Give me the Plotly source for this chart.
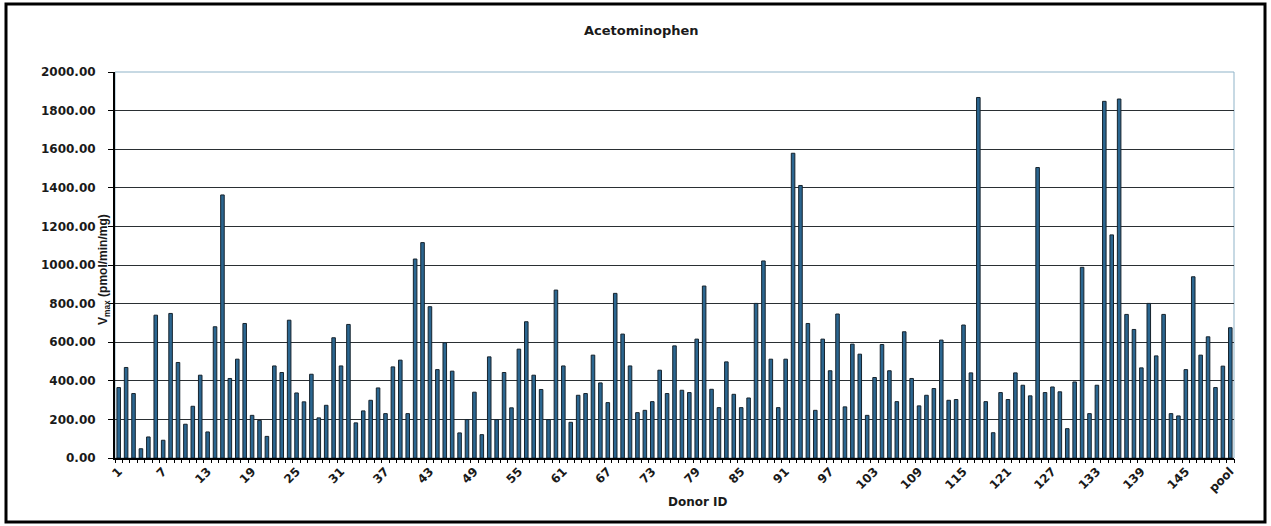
import plotly.graph_objects as go

# ---- data ----
donor_ids = [str(i) for i in range(1, 151)] + ["pool"]
vmax = [
    365, 469, 334, 48, 109, 740, 92, 749, 495, 175,
    268, 429, 135, 680, 1363, 412, 512, 697, 221, 195,
    112, 477, 443, 714, 337, 291, 434, 208, 273, 623,
    477, 692, 182, 244, 299, 363, 230, 472, 507, 230,
    1031, 1116, 784, 458, 597, 450, 130, 199, 341, 121,
    524, 199, 443, 260, 564, 706, 429, 355, 199, 870,
    477, 185, 325, 334, 533, 389, 287, 853, 642, 477,
    235, 247, 292, 455, 334, 581, 351, 339, 616, 891,
    356, 261, 498, 330, 261, 311, 801, 1021, 512, 261,
    512, 1579, 1412, 697, 247, 616, 452, 746, 265, 590,
    538, 221, 417, 588, 452, 292, 654, 412, 270, 325,
    360, 611, 299, 303, 689, 441, 1868, 292, 131, 339,
    303, 441, 377, 322, 1505, 339, 368, 343, 152, 394,
    988, 230, 377, 1848, 1156, 1860, 744, 666, 467, 801,
    529, 744, 230, 218, 458, 939, 533, 628, 365, 476,
    675,
]
y_ticks = [0, 200, 400, 600, 800, 1000, 1200, 1400, 1600, 1800, 2000]
y_tick_text = [f"{v:.2f}" for v in y_ticks]
x_tick_vals = donor_ids[::6]

W, H = 1271, 526
ML, MR, MT, MB = 115, 37, 72, 68
PW, PH = W - ML - MR, H - MT - MB

def px_x(p):
    return (p - ML) / PW

def px_y(p):
    return (H - MB - p) / PH

n = len(donor_ids)

fig = go.Figure()
fig.add_trace(
    go.Bar(
        x=donor_ids,
        y=vmax,
        marker=dict(color="#2b6690", line=dict(color="#16232d", width=1)),
        hoverinfo="x+y",
    )
)
# empty helper trace so the boundary-tick axis is rendered
fig.add_trace(go.Scatter(x=[], y=[], xaxis="x2", yaxis="y", showlegend=False, hoverinfo="skip"))

fig.update_layout(
    width=W,
    height=H,
    margin=dict(l=ML, r=MR, t=MT, b=MB, autoexpand=False),
    paper_bgcolor="white",
    plot_bgcolor="white",
    showlegend=False,
    bargap=0.52,
    font=dict(family="DejaVu Sans", color="black"),
    xaxis=dict(
        type="category",
        tickmode="array",
        tickvals=x_tick_vals,
        ticktext=x_tick_vals,
        tickangle=-45,
        ticks="",
        showline=True,
        linecolor="black",
        linewidth=1.5,
        showgrid=False,
        automargin=False,
        tickfont=dict(family="DejaVu Sans", size=12, weight="bold", color="#1a1a1a"),
    ),
    xaxis2=dict(
        overlaying="x",
        anchor="y",
        side="bottom",
        range=[-0.5, n - 0.5],
        tickmode="linear",
        tick0=-0.5,
        dtick=1,
        ticks="outside",
        ticklen=4,
        tickcolor="black",
        showticklabels=False,
        showline=False,
        showgrid=False,
        zeroline=False,
        fixedrange=True,
    ),
    yaxis=dict(
        range=[0, 2000],
        tickmode="array",
        tickvals=y_ticks,
        ticktext=y_tick_text,
        ticks="outside",
        ticklen=5,
        tickcolor="black",
        ticklabelstandoff=10,
        showline=True,
        linecolor="black",
        linewidth=2,
        showgrid=True,
        gridcolor="#2a2f33",
        gridwidth=1,
        zeroline=False,
        automargin=False,
        tickfont=dict(family="DejaVu Sans", size=12, weight="bold", color="#1a1a1a"),
    ),
    shapes=[
        dict(type="rect", xref="x domain", yref="y domain", x0=0, x1=1, y0=0, y1=1,
             line=dict(color="#8fb3c8", width=1), layer="below"),
        dict(type="rect", xref="paper", yref="paper",
             x0=px_x(6), x1=px_x(1265), y0=px_y(522), y1=px_y(4),
             line=dict(color="black", width=3)),
    ],
    annotations=[
        dict(text="Acetominophen", xref="paper", yref="paper",
             x=px_x(641), y=px_y(30), xanchor="center", yanchor="middle", showarrow=False,
             font=dict(family="DejaVu Sans", size=13, weight="bold", color="#1a1a1a")),
        dict(text="Donor ID", xref="paper", yref="paper",
             x=px_x(698), y=px_y(502), xanchor="center", yanchor="middle", showarrow=False,
             font=dict(family="DejaVu Sans", size=12, weight="bold", color="#1a1a1a")),
        dict(text="V<sub>max</sub> (pmol/min/mg)", xref="paper", yref="paper",
             x=px_x(104), y=px_y(270), xanchor="center", yanchor="middle",
             showarrow=False, textangle=-90,
             font=dict(family="Liberation Sans", size=12, weight="bold", color="#1a1a1a")),
    ],
)

fig.write_html("out.html")
